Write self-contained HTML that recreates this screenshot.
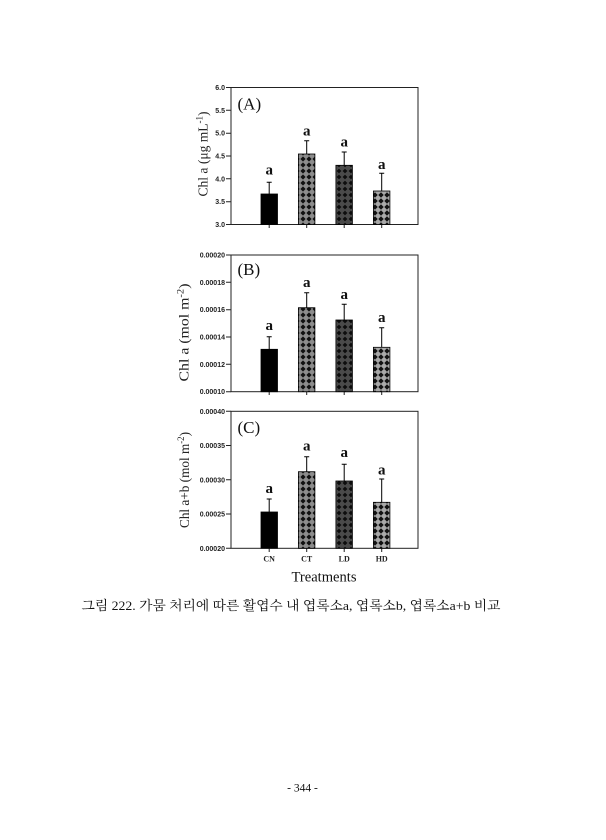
<!DOCTYPE html>
<html><head><meta charset="utf-8"><style>
html,body{margin:0;padding:0;background:#fff;}
svg{display:block;}
</style></head><body>
<svg width="606" height="840" viewBox="0 0 606 840" xmlns="http://www.w3.org/2000/svg">
<defs>
<pattern id="pCT" width="6" height="6" patternUnits="userSpaceOnUse">
<rect width="6" height="6" fill="#8c8c8c"/>
<polygon points="3,0.4 5.6,3 3,5.6 0.4,3" fill="#111"/>
</pattern>
<pattern id="pLD" width="6" height="6" patternUnits="userSpaceOnUse">
<rect width="6" height="6" fill="#4a4a4a"/>
<polygon points="3,0.6 5.4,3 3,5.4 0.6,3" fill="#0d0d0d"/>
</pattern>
<pattern id="pHD" width="6" height="6" patternUnits="userSpaceOnUse">
<rect width="6" height="6" fill="#a8a8a8"/>
<polygon points="3,0.3 5.7,3 3,5.7 0.3,3" fill="#111"/>
</pattern>
</defs>
<rect width="606" height="840" fill="#fff"/>

<g font-family="Liberation Sans, sans-serif" font-size="7" font-weight="bold" fill="#222" text-anchor="end">
<!-- Panel A ticks -->
<text x="225" y="90">6.0</text>
<text x="225" y="112.8">5.5</text>
<text x="225" y="135.7">5.0</text>
<text x="225" y="158.5">4.5</text>
<text x="225" y="181.3">4.0</text>
<text x="225" y="204.2">3.5</text>
<text x="225" y="227">3.0</text>
<!-- Panel B ticks -->
<text x="225" y="257.5">0.00020</text>
<text x="225" y="284.8">0.00018</text>
<text x="225" y="312.2">0.00016</text>
<text x="225" y="339.5">0.00014</text>
<text x="225" y="366.8">0.00012</text>
<text x="225" y="394.2">0.00010</text>
<!-- Panel C ticks -->
<text x="225" y="413.8">0.00040</text>
<text x="225" y="448">0.00035</text>
<text x="225" y="482.3">0.00030</text>
<text x="225" y="516.5">0.00025</text>
<text x="225" y="550.8">0.00020</text>
</g>

<g stroke="#222" stroke-width="1" fill="none">
<!-- frames -->
<rect x="231" y="87.5" width="187" height="137"/>
<rect x="231" y="255" width="187" height="136.7"/>
<rect x="231" y="411.3" width="187" height="137"/>
<!-- y ticks A -->
<path d="M226 87.5H231M226 110.3H231M226 133.2H231M226 156H231M226 178.8H231M226 201.7H231M226 224.5H231"/>
<path d="M226 255H231M226 282.3H231M226 309.7H231M226 337H231M226 364.3H231M226 391.7H231"/>
<path d="M226 411.3H231M226 445.5H231M226 479.8H231M226 514H231M226 548.3H231"/>
<!-- x ticks -->
<path d="M269.2 224.5V228M306.7 224.5V228M344.2 224.5V228M381.7 224.5V228"/>
<path d="M269.2 391.7V395M306.7 391.7V395M344.2 391.7V395M381.7 391.7V395"/>
<path d="M269.2 548.3V552M306.7 548.3V552M344.2 548.3V552M381.7 548.3V552"/>
</g>

<!-- Bars panel A -->
<g stroke="#000" stroke-width="0.8">
<rect x="261" y="194" width="16.5" height="30.5" fill="#000"/>
<rect x="298.4" y="154" width="16.5" height="70.5" fill="url(#pCT)"/>
<rect x="335.9" y="165.3" width="16.5" height="59.2" fill="url(#pLD)"/>
<rect x="373.4" y="191" width="16.5" height="33.5" fill="url(#pHD)"/>
<!-- Bars panel B -->
<rect x="261" y="349.3" width="16.5" height="42.4" fill="#000"/>
<rect x="298.4" y="307.7" width="16.5" height="84" fill="url(#pCT)"/>
<rect x="335.9" y="320" width="16.5" height="71.7" fill="url(#pLD)"/>
<rect x="373.4" y="347.3" width="16.5" height="44.4" fill="url(#pHD)"/>
<!-- Bars panel C -->
<rect x="261" y="512" width="16.5" height="36.3" fill="#000"/>
<rect x="298.4" y="471.7" width="16.5" height="76.6" fill="url(#pCT)"/>
<rect x="335.9" y="481" width="16.5" height="67.3" fill="url(#pLD)"/>
<rect x="373.4" y="502.3" width="16.5" height="46" fill="url(#pHD)"/>
</g>

<!-- Error bars -->
<g stroke="#000" stroke-width="1" fill="none">
<path d="M269.2 194V182.3M266.7 182.3H271.7"/>
<path d="M306.7 154V140.7M304.2 140.7H309.2"/>
<path d="M344.2 165.3V152M341.7 152H346.7"/>
<path d="M381.7 191V173.3M379.2 173.3H384.2"/>
<path d="M269.2 349.3V336.7M266.7 336.7H271.7"/>
<path d="M306.7 307.7V292.7M304.2 292.7H309.2"/>
<path d="M344.2 320V304.3M341.7 304.3H346.7"/>
<path d="M381.7 347.3V327.7M379.2 327.7H384.2"/>
<path d="M269.2 512V499M266.7 499H271.7"/>
<path d="M306.7 471.7V456.7M304.2 456.7H309.2"/>
<path d="M344.2 481V464.3M341.7 464.3H346.7"/>
<path d="M381.7 502.3V479M379.2 479H384.2"/>
</g>

<!-- letters -->
<g font-family="Liberation Serif, serif" font-size="15" font-weight="bold" fill="#111" text-anchor="middle">
<text x="269.2" y="174.5">a</text>
<text x="306.7" y="135.5">a</text>
<text x="344.2" y="146.5">a</text>
<text x="381.7" y="168.8">a</text>
<text x="269.2" y="329.8">a</text>
<text x="306.7" y="287.1">a</text>
<text x="344.2" y="298.8">a</text>
<text x="381.7" y="322.1">a</text>
<text x="269.2" y="493.1">a</text>
<text x="306.7" y="450.5">a</text>
<text x="344.2" y="457.1">a</text>
<text x="381.7" y="474.3">a</text>
</g>

<!-- panel labels -->
<g font-family="Liberation Serif, serif" font-size="17" fill="#111">
<text x="237.5" y="109.5">(A)</text>
<text x="237.5" y="275">(B)</text>
<text x="237.5" y="433">(C)</text>
</g>

<!-- y-axis titles -->
<g font-family="Liberation Serif, serif" font-size="13.5" fill="#222" text-anchor="middle">
<text transform="translate(207.5,154) rotate(-90)" textLength="85" lengthAdjust="spacingAndGlyphs">Chl a (μg mL<tspan font-size="9" dy="-5">-1</tspan><tspan dy="5">)</tspan></text>
<text transform="translate(188.5,332.5) rotate(-90)" textLength="98" lengthAdjust="spacingAndGlyphs">Chl a (mol m<tspan font-size="9" dy="-5">-2</tspan><tspan dy="5">)</tspan></text>
<text transform="translate(189,480) rotate(-90)" textLength="96" lengthAdjust="spacingAndGlyphs">Chl a+b (mol m<tspan font-size="9" dy="-5">-2</tspan><tspan dy="5">)</tspan></text>
</g>

<!-- x labels -->
<g font-family="Liberation Serif, serif" font-size="8" font-weight="bold" fill="#222" text-anchor="middle">
<text x="269.2" y="561.5">CN</text>
<text x="306.7" y="561.5">CT</text>
<text x="344.2" y="561.5">LD</text>
<text x="381.7" y="561.5">HD</text>
</g>
<text x="324" y="581.5" font-family="Liberation Serif, serif" font-size="14.5" fill="#111" text-anchor="middle" textLength="65" lengthAdjust="spacingAndGlyphs">Treatments</text>

<!-- caption -->
<text x="81.5" y="610" font-family="Liberation Serif, 'Noto Serif CJK SC', 'Noto Sans CJK KR', serif" font-size="13" fill="#111" textLength="419" lengthAdjust="spacingAndGlyphs">그림 222. 가뭄 처리에 따른 활엽수 내 엽록소a, 엽록소b, 엽록소a+b 비교</text>

<!-- page number -->
<text x="302.5" y="791.5" font-family="Liberation Serif, serif" font-size="11.5" fill="#111" text-anchor="middle">- 344 -</text>
</svg>
</body></html>
